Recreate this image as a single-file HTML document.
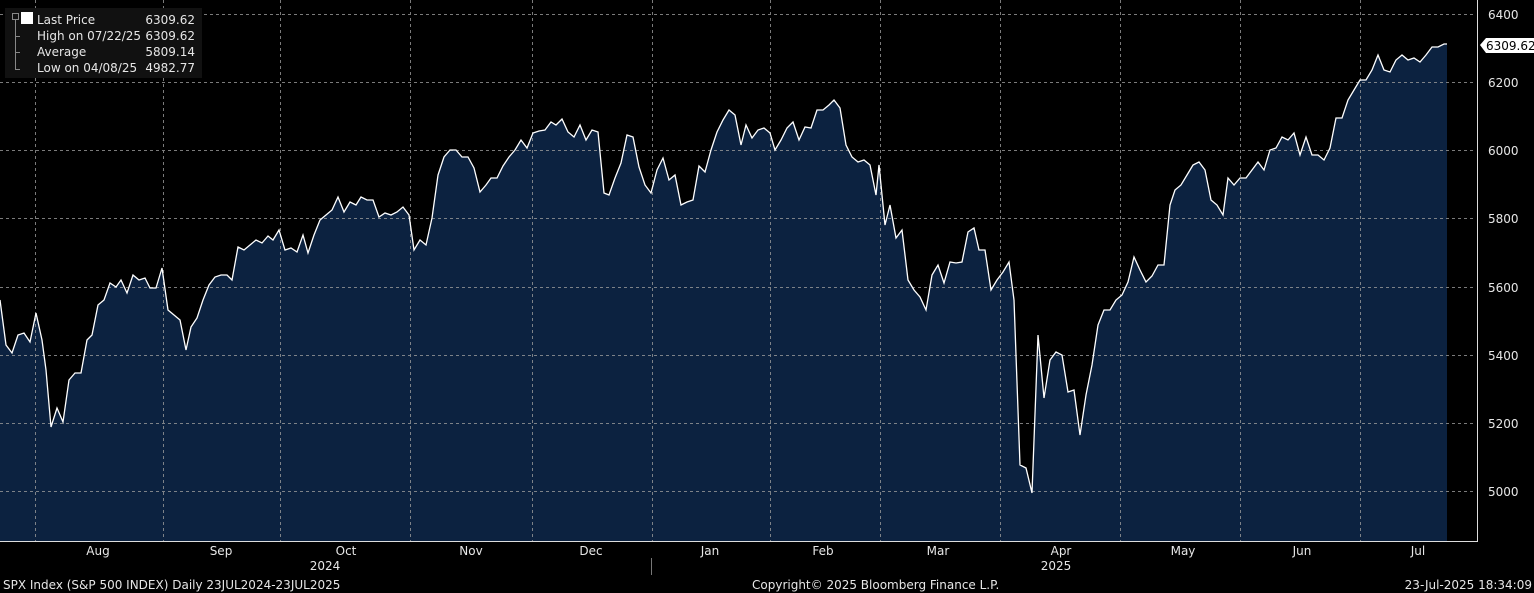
<!DOCTYPE html>
<html><head><meta charset="utf-8"><style>
body{margin:0;background:#000;width:1534px;height:593px;overflow:hidden}
svg{display:block}
text{font-family:"DejaVu Sans","Liberation Sans",sans-serif;fill:#e6e6e6}
</style></head><body>
<svg width="1534" height="593" viewBox="0 0 1534 593">
<rect width="1534" height="593" fill="#000"/>
<polygon fill="#0c2240" points="0,541 0,300 6,345 12,353 18,335 24,333 30,342 36,313 42,340 46,370 51,427 57,408 63,422 69,380 75,373 81,373 87,340 92,335 98,305 104,300 110,283 116,287 121,280 127,293 133,275 139,280 145,278 150,288 156,288 162,268 168,310 174,315 180,320 186,350 191,327 197,318 203,300 209,285 215,277 221,275 227,275 232,280 238,247 244,250 250,245 256,240 262,243 268,236 273,240 279,230 285,250 291,248 297,252 303,235 308,253 314,235 320,220 326,215 332,210 338,197 344,212 350,202 356,205 361,197 367,200 373,200 379,217 385,213 391,215 397,212 403,207 409,215 414,250 420,240 426,245 432,218 438,175 444,157 450,150 456,150 462,157 468,157 474,168 480,192 486,185 491,178 497,178 503,166 509,157 515,150 521,140 527,148 533,133 539,131 545,130 551,122 556,125 562,119 568,132 574,137 580,125 586,140 592,130 598,132 604,193 609,195 615,178 621,163 627,135 633,137 639,167 645,185 651,193 657,170 663,158 669,180 675,175 681,205 687,202 693,200 699,166 705,172 711,150 717,132 723,120 729,110 735,115 741,145 746,125 752,138 758,130 764,128 770,133 775,150 781,140 787,128 793,122 799,140 805,127 811,128 817,110 823,110 829,105 834,100 840,108 846,145 852,157 858,162 864,160 870,165 876,195 879,165 885,225 890,205 896,238 902,230 908,280 914,290 920,297 926,310 932,275 938,265 944,283 950,262 956,263 962,262 968,232 974,228 979,250 985,250 991,290 997,280 1003,272 1009,262 1014,300 1020,465 1026,468 1032,493 1038,335 1044,398 1050,360 1056,352 1062,355 1068,392 1074,390 1080,435 1086,395 1092,365 1098,325 1104,310 1110,310 1116,300 1122,295 1128,282 1134,257 1140,270 1146,282 1152,276 1158,265 1164,265 1170,205 1175,190 1181,185 1187,175 1193,165 1199,162 1205,170 1211,200 1217,205 1223,215 1228,178 1234,185 1240,178 1246,178 1252,170 1258,162 1264,170 1270,150 1276,148 1282,137 1288,140 1294,133 1300,155 1306,137 1312,155 1318,155 1324,160 1330,148 1336,118 1342,118 1348,100 1354,90 1360,80 1366,80 1372,70 1378,55 1384,70 1390,72 1396,60 1402,55 1408,60 1414,58 1420,62 1426,55 1432,47 1438,47 1444,44 1447,44 1447,541"/>
<g stroke="#9a9a9a" stroke-width="1" stroke-dasharray="3,3" opacity="0.8">
<line x1="0" x2="1476" y1="14.5" y2="14.5"/><line x1="0" x2="1476" y1="82.5" y2="82.5"/><line x1="0" x2="1476" y1="150.5" y2="150.5"/><line x1="0" x2="1476" y1="218.5" y2="218.5"/><line x1="0" x2="1476" y1="287.5" y2="287.5"/><line x1="0" x2="1476" y1="355.5" y2="355.5"/><line x1="0" x2="1476" y1="423.5" y2="423.5"/><line x1="0" x2="1476" y1="491.5" y2="491.5"/>
<line x1="35.5" x2="35.5" y1="0" y2="541"/><line x1="163.5" x2="163.5" y1="0" y2="541"/><line x1="280.5" x2="280.5" y1="0" y2="541"/><line x1="410.5" x2="410.5" y1="0" y2="541"/><line x1="532.5" x2="532.5" y1="0" y2="541"/><line x1="652.5" x2="652.5" y1="0" y2="541"/><line x1="770.5" x2="770.5" y1="0" y2="541"/><line x1="880.5" x2="880.5" y1="0" y2="541"/><line x1="1000.5" x2="1000.5" y1="0" y2="541"/><line x1="1120.5" x2="1120.5" y1="0" y2="541"/><line x1="1240.5" x2="1240.5" y1="0" y2="541"/><line x1="1360.5" x2="1360.5" y1="0" y2="541"/>
</g>
<polyline fill="none" stroke="#fff" stroke-width="1.3" points="0,300 6,345 12,353 18,335 24,333 30,342 36,313 42,340 46,370 51,427 57,408 63,422 69,380 75,373 81,373 87,340 92,335 98,305 104,300 110,283 116,287 121,280 127,293 133,275 139,280 145,278 150,288 156,288 162,268 168,310 174,315 180,320 186,350 191,327 197,318 203,300 209,285 215,277 221,275 227,275 232,280 238,247 244,250 250,245 256,240 262,243 268,236 273,240 279,230 285,250 291,248 297,252 303,235 308,253 314,235 320,220 326,215 332,210 338,197 344,212 350,202 356,205 361,197 367,200 373,200 379,217 385,213 391,215 397,212 403,207 409,215 414,250 420,240 426,245 432,218 438,175 444,157 450,150 456,150 462,157 468,157 474,168 480,192 486,185 491,178 497,178 503,166 509,157 515,150 521,140 527,148 533,133 539,131 545,130 551,122 556,125 562,119 568,132 574,137 580,125 586,140 592,130 598,132 604,193 609,195 615,178 621,163 627,135 633,137 639,167 645,185 651,193 657,170 663,158 669,180 675,175 681,205 687,202 693,200 699,166 705,172 711,150 717,132 723,120 729,110 735,115 741,145 746,125 752,138 758,130 764,128 770,133 775,150 781,140 787,128 793,122 799,140 805,127 811,128 817,110 823,110 829,105 834,100 840,108 846,145 852,157 858,162 864,160 870,165 876,195 879,165 885,225 890,205 896,238 902,230 908,280 914,290 920,297 926,310 932,275 938,265 944,283 950,262 956,263 962,262 968,232 974,228 979,250 985,250 991,290 997,280 1003,272 1009,262 1014,300 1020,465 1026,468 1032,493 1038,335 1044,398 1050,360 1056,352 1062,355 1068,392 1074,390 1080,435 1086,395 1092,365 1098,325 1104,310 1110,310 1116,300 1122,295 1128,282 1134,257 1140,270 1146,282 1152,276 1158,265 1164,265 1170,205 1175,190 1181,185 1187,175 1193,165 1199,162 1205,170 1211,200 1217,205 1223,215 1228,178 1234,185 1240,178 1246,178 1252,170 1258,162 1264,170 1270,150 1276,148 1282,137 1288,140 1294,133 1300,155 1306,137 1312,155 1318,155 1324,160 1330,148 1336,118 1342,118 1348,100 1354,90 1360,80 1366,80 1372,70 1378,55 1384,70 1390,72 1396,60 1402,55 1408,60 1414,58 1420,62 1426,55 1432,47 1438,47 1444,44 1447,44"/>
<line x1="0" x2="1477" y1="541.5" y2="541.5" stroke="#ddd"/>
<line x1="1477.5" x2="1477.5" y1="0" y2="542" stroke="#ddd"/>
<g font-size="12">
<text x="1488" y="19">6400</text><text x="1488" y="87">6200</text><text x="1488" y="155">6000</text><text x="1488" y="223">5800</text><text x="1488" y="292">5600</text><text x="1488" y="360">5400</text><text x="1488" y="428">5200</text><text x="1488" y="496">5000</text>
</g>
<polygon points="1480,45 1486,38 1534,38 1534,53 1486,53" fill="#fff"/>
<text x="1486" y="50" font-size="12" style="fill:#000">6309.62</text>
<g font-size="12" text-anchor="middle">
<text x="98" y="555">Aug</text><text x="221" y="555">Sep</text><text x="346" y="555">Oct</text><text x="471" y="555">Nov</text><text x="591" y="555">Dec</text><text x="710" y="555">Jan</text><text x="823" y="555">Feb</text><text x="938" y="555">Mar</text><text x="1061" y="555">Apr</text><text x="1183" y="555">May</text><text x="1302" y="555">Jun</text><text x="1418" y="555">Jul</text>
<text x="325" y="570">2024</text><text x="1056" y="570">2025</text>
</g>
<line x1="651.5" x2="651.5" y1="558" y2="575" stroke="#777"/>
<g font-size="12">
<text x="3" y="589">SPX Index (S&amp;P 500 INDEX)  Daily 23JUL2024-23JUL2025</text>
<text x="752" y="589">Copyright© 2025 Bloomberg Finance L.P.</text>
<text x="1532" y="589" text-anchor="end">23-Jul-2025 18:34:09</text>
</g>
<rect x="5" y="8" width="197" height="70" fill="#111"/>
<g stroke="#888" fill="none"><rect x="12.5" y="13.5" width="6" height="6"/><line x1="15.5" y1="20" x2="15.5" y2="70"/><line x1="15" y1="36.5" x2="20" y2="36.5"/><line x1="15" y1="52.5" x2="20" y2="52.5"/><line x1="15" y1="69.5" x2="20" y2="69.5"/></g>
<rect x="21" y="12" width="12" height="12" fill="#fff"/>
<g font-size="12">
<text x="37" y="24">Last Price</text><text x="195" y="24" text-anchor="end">6309.62</text>
<text x="37" y="40">High on 07/22/25</text><text x="195" y="40" text-anchor="end">6309.62</text>
<text x="37" y="56">Average</text><text x="195" y="56" text-anchor="end">5809.14</text>
<text x="37" y="72">Low on 04/08/25</text><text x="195" y="72" text-anchor="end">4982.77</text>
</g>
</svg>
</body></html>
